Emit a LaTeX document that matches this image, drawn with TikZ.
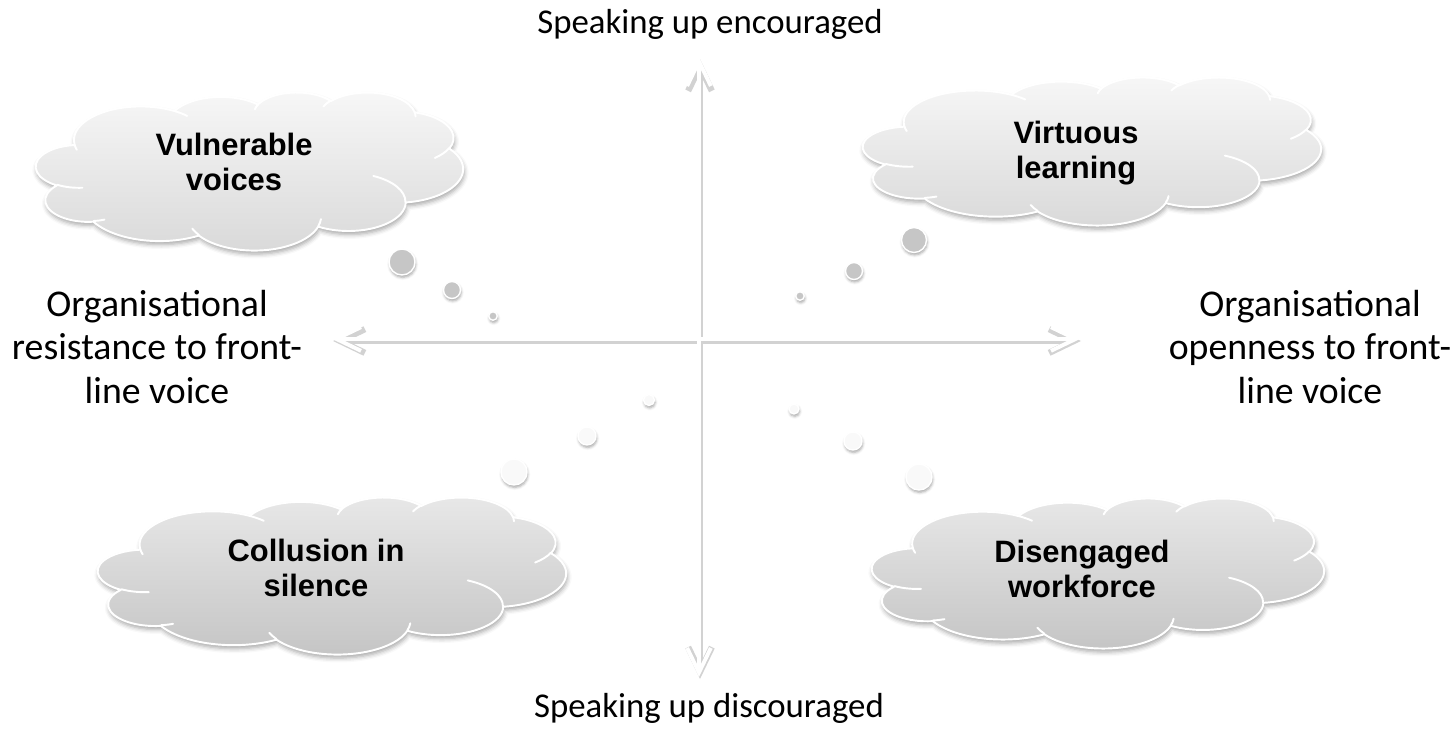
\documentclass[tikz,border=0pt]{standalone}
\usepackage{fontspec}
\setmainfont{Carlito}
\newfontfamily\cloudfont{Liberation Sans}
\usetikzlibrary{arrows.meta,shadows.blur}

% one puff of the cloud: x radius, y radius, start angle, sweep
% (angles as seen on the ellipse, turned into parameters here)
\tikzset{
  cloud arc/.style n args={4}{insert path={
      arc[x radius=#1, y radius=#2,
          start angle={atan2(#1*sin(#3),#2*cos(#3))},
          delta angle={Mod(atan2(#1*sin(#3+#4),#2*cos(#3+#4))-atan2(#1*sin(#3),#2*cos(#3)),360)}]}},
  cloud top/.style={draw=white, line width=1.1pt, top color=gray!6, bottom color=gray!30,
      blur shadow={shadow xshift=0.6pt, shadow yshift=-2pt, shadow blur radius=2.5pt, shadow opacity=35}},
  cloud bottom/.style={cloud top, top color=gray!18, bottom color=gray!46},
  cloud seam/.style={draw=white, line width=1.1pt},
  bubble/.style={circle, draw=white, line width=0.8pt, inner sep=0pt,
      blur shadow={shadow xshift=0.4pt, shadow yshift=-1.4pt, shadow blur radius=1.5pt, shadow opacity=35}},
  bubble dark/.style={bubble, fill=gray!45},
  bubble light/.style={bubble, fill=gray!5},
  axis label/.style={align=center, inner sep=0pt, font=\fontsize{19.8pt}{24.9pt}\selectfont},
  side label/.style={axis label, font=\fontsize{21.5pt}{24.9pt}\selectfont},
  cloud label/.style={align=center, inner sep=0pt, font=\cloudfont\bfseries\fontsize{17.6pt}{19.8pt}\selectfont},
  axis/.style={draw=white, line width=2.2pt},
  axis shadow/.style={draw=gray!35, line width=3.6pt},
}

% outline on a 432 x 432 grid, y pointing down
\newcommand\cloudoutline{(39.00,143.70)
  [cloud arc={67.53}{91.90}{-190.4875}{123.7805}]
  [cloud arc={53.33}{72.67}{-144.1024}{89.9452}]
  [cloud arc={43.65}{59.45}{-145.8079}{99.7230}]
  [cloud arc={48.57}{65.95}{-130.9861}{117.2417}]
  [cloud arc={53.33}{72.73}{-78.7089}{109.0269}]
  [cloud arc={67.75}{92.20}{-46.2673}{130.2690}]
  [cloud arc={57.85}{78.67}{0.6250}{114.0333}]
  [cloud arc={67.52}{92.15}{22.4516}{115.1726}]
  [cloud arc={77.20}{105.43}{66.2426}{75.7110}]
  [cloud arc={43.60}{59.18}{-274.9421}{146.7356}]
  [cloud arc={43.45}{59.45}{-246.8285}{152.5189}] -- cycle}

% the inner lines where the puffs overlap
\newcommand\cloudseams{
  (46.93,261.77) [cloud arc={43.45}{59.45}{86.7420}{26.4295}]
  (69.28,348.99) [cloud arc={43.60}{59.18}{73.6105}{11.4475}]
  (164.78,390.90) [cloud arc={67.52}{92.15}{137.6242}{14.0811}]
  (288.27,347.51) [cloud arc={67.52}{92.15}{6.4533}{15.9984}]
  (341.29,229.54) [cloud arc={57.85}{78.67}{-70.2924}{70.9174}]
  (417.98,153.54) [cloud arc={53.33}{72.73}{30.3180}{27.7515}]
  (383.24,54.26) [cloud arc={48.57}{65.95}{-13.7443}{14.8589}]
  (290.78,39.52) [cloud arc={48.57}{65.95}{-149.1815}{18.1954}]
  (221.41,47.20) [cloud arc={43.65}{59.45}{-163.4943}{17.6864}]
  (140.00,51.92) [cloud arc={67.53}{91.90}{-66.7070}{12.3194}]
  (41.27,157.89) [cloud arc={67.53}{91.90}{157.6544}{11.8582}]}

% #1,#2 top left corner, #3 width, #4 height, #5 style
\newcommand\thoughtcloud[5]{%
  \begin{scope}[shift={(#1,#2)}, x=#3*0.02cm/432, y=-#4*0.02cm/432]
    \path[#5] \cloudoutline;
    \draw[cloud seam] \cloudseams;
  \end{scope}}

\begin{document}
\begin{tikzpicture}[x=0.02cm, y=-0.02cm, >={Straight Barb[length=14pt,width=13.5pt]},
    line cap=round, line join=round]
  \useasboundingbox (0,0) rectangle (1455,730);

  \coordinate (up) at (699,57);
  \coordinate (down) at (699,677);
  \coordinate (west) at (332,339);
  \coordinate (east) at (1080,339);

  % clouds
  \thoughtcloud{36}{92}{427}{158}{cloud top}
  \thoughtcloud{863}{77}{458}{148}{cloud top}
  \thoughtcloud{98}{497}{468}{157}{cloud bottom}
  \thoughtcloud{872}{498}{452}{150}{cloud bottom}

  % bubbles
  \node[bubble dark, minimum size=0.52cm] (vv1) at (402,262) {};
  \node[bubble dark, minimum size=0.34cm] (vv2) at (452,290) {};
  \node[bubble dark, minimum size=0.17cm] (vv3) at (493,316) {};
  \node[bubble dark, minimum size=0.50cm] (vl1) at (914,240) {};
  \node[bubble dark, minimum size=0.34cm] (vl2) at (854,271) {};
  \node[bubble dark, minimum size=0.17cm] (vl3) at (800,296) {};
  \node[bubble light, minimum size=0.52cm] (cs1) at (514,472) {};
  \node[bubble light, minimum size=0.36cm] (cs2) at (587,436) {};
  \node[bubble light, minimum size=0.22cm] (cs3) at (649,400) {};
  \node[bubble light, minimum size=0.52cm] (dw1) at (919,477) {};
  \node[bubble light, minimum size=0.36cm] (dw2) at (853,441) {};
  \node[bubble light, minimum size=0.20cm] (dw3) at (794,409) {};

  % axes
  \draw[axis shadow, <->] ([shift={(1,2)}]up) -- ([shift={(1,2)}]down);
  \draw[axis shadow, <->] ([shift={(1,2)}]west) -- ([shift={(1,2)}]east);
  \draw[axis, <->] (up) -- (down);
  \draw[axis, <->] (west) -- (east);

  \node[axis label, anchor=base] (encouraged) at (710,33) {Speaking up encouraged};
  \node[axis label, anchor=base] (discouraged) at (709,717) {Speaking up discouraged};
  \node[side label] (resistance) at (157,347) {Organisational\\resistance to front-\\line voice};
  \node[side label] (openness) at (1310,347) {Organisational\\openness to front-\\line voice};

  \node[cloud label] (vulnerable) at (234,162) {Vulnerable\\voices};
  \node[cloud label] (virtuous) at (1076,153) {Virtuous\\learning};
  \node[cloud label] (collusion) at (316,568) {Collusion in\\silence};
  \node[cloud label] (disengaged) at (1082,569) {Disengaged\\workforce};
\end{tikzpicture}
\end{document}
